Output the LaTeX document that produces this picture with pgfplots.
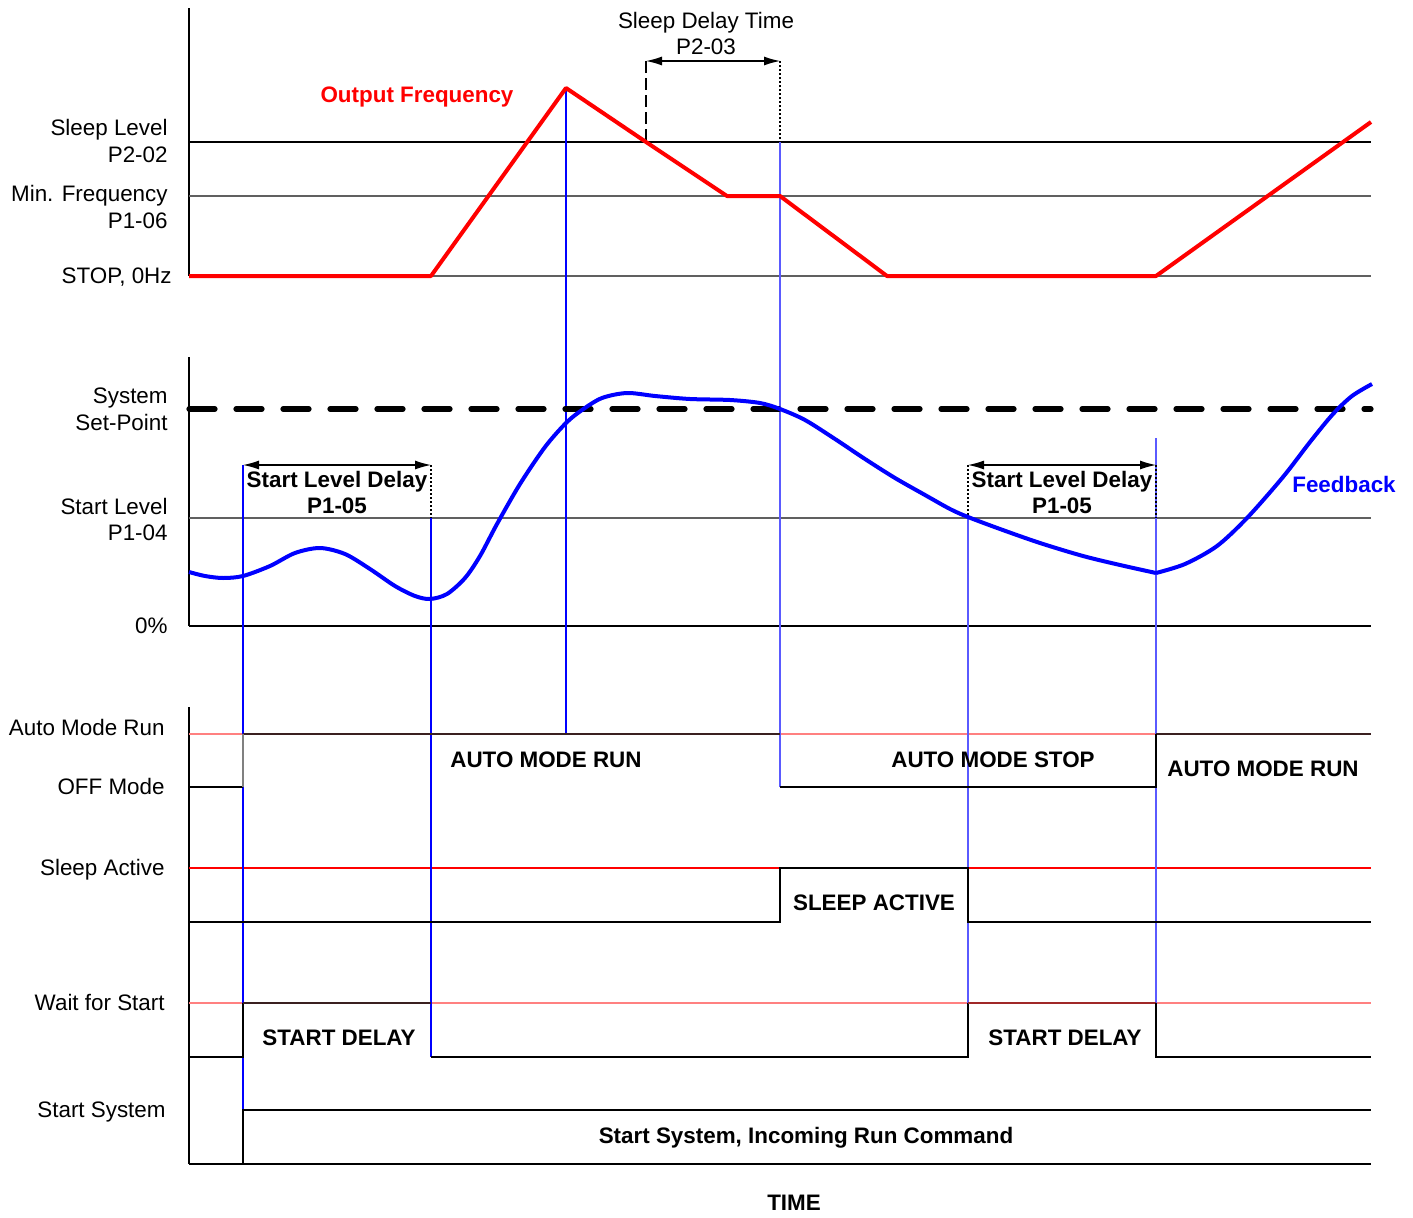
\documentclass[border=0pt]{standalone}
\usepackage{fontspec}
\setmainfont{Liberation Sans}
\usepackage{pgfplots}
\pgfplotsset{compat=1.18}
\usetikzlibrary{arrows.meta}
\definecolor{lred}{HTML}{FF8080}
\definecolor{dbrown}{HTML}{3A2020}
\definecolor{dred}{HTML}{A02828}
\definecolor{lblue}{HTML}{5A5AFF}
\definecolor{gline}{HTML}{606060}
\begin{document}
\begin{tikzpicture}[font=\fontsize{11.2bp}{13bp}\selectfont]
\begin{axis}[scale only axis, width=706.5bp, height=609bp,
  xmin=0, xmax=1413, ymin=0, ymax=1218, y dir=reverse,
  hide axis, clip=false,
  every axis plot/.append style={no markers}]
\path (axis cs:0,0) rectangle (axis cs:1413,1218);
% ---------- axes ----------
\addplot[black, line width=0.7bp] coordinates {(189,8) (189,276)};
\addplot[black, line width=0.7bp] coordinates {(189,357) (189,626)};
\addplot[black, line width=0.7bp] coordinates {(189,707) (189,1164)};
% ---------- top panel reference lines ----------
\addplot[black, line width=0.6bp] coordinates {(189,142) (1371,142)};
\addplot[gline, line width=0.7bp] coordinates {(189,196) (1371,196)};
\addplot[gline, line width=0.7bp] coordinates {(189,276) (1371,276)};
% ---------- middle panel reference lines ----------
\addplot[gline, line width=0.7bp] coordinates {(189,518) (1371,518)};
\addplot[black, line width=0.6bp] coordinates {(189,626) (1371,626)};
% ---------- lane reference lines ----------
\addplot[lred, line width=0.7bp] coordinates {(189,734) (1371,734)};
\addplot[red, line width=0.6bp] coordinates {(189,868) (1371,868)};
\addplot[lred, line width=0.7bp] coordinates {(189,1003) (1371,1003)};
% ---------- blue vertical markers ----------
\addplot[blue, line width=0.6bp] coordinates {(243,465) (243,1110)};
\addplot[blue, line width=0.6bp] coordinates {(431,518) (431,1057)};
\addplot[blue, line width=0.6bp] coordinates {(566,88) (566,734)};
\addplot[lblue, line width=0.6bp] coordinates {(780,142) (780,787)};
\addplot[lblue, line width=0.6bp] coordinates {(968,518) (968,1003)};
\addplot[lblue, line width=0.6bp] coordinates {(1156,438) (1156,1003)};
% ---------- dotted / dashed delay markers ----------
\addplot[black, line width=1.1bp, dash pattern=on 6bp off 2.5bp] coordinates {(646,61) (646,142)};
\addplot[black, line width=0.6bp, dash pattern=on 1bp off 1bp] coordinates {(780,61) (780,142)};
\addplot[black, line width=0.6bp, dash pattern=on 1bp off 1bp] coordinates {(431,465) (431,518)};
\addplot[black, line width=0.6bp, dash pattern=on 1bp off 1bp] coordinates {(968,465) (968,518)};
\addplot[black, line width=0.6bp, dash pattern=on 1bp off 1bp] coordinates {(1156,465) (1156,518)};
% ---------- arrows ----------
\addplot[black, line width=0.6bp, {Latex[length=8bp,width=4.5bp]}-{Latex[length=8bp,width=4.5bp]}] coordinates {(646,61) (780,61)};
\addplot[black, line width=0.6bp, {Latex[length=8bp,width=4.5bp]}-{Latex[length=8bp,width=4.5bp]}] coordinates {(243,465) (431,465)};
\addplot[black, line width=0.6bp, {Latex[length=8bp,width=4.5bp]}-{Latex[length=8bp,width=4.5bp]}] coordinates {(968,465) (1156,465)};
% ---------- set point ----------
\addplot[black, line width=2.6bp, line cap=round, dash pattern=on 13bp off 10.5bp] coordinates {(189,409) (1371,409)};
% ---------- output frequency ----------
\addplot[red, line width=2bp, line join=round] coordinates {
(189,276) (431,276) (566,88) (646,142) (727,196) (780,196) (887,276) (1156,276) (1371,122)};
% ---------- feedback ----------
\addplot[blue, line width=2bp, smooth, tension=0.5] coordinates {
(189,572) (205,576) (223,578) (243,576) (270,566) (295,553) (320,548) (345,554)
(370,569) (395,586) (415,596) (430,599) (447,594) (465,578) (480,556) (497,524)
(520,484) (545,447) (566,423) (582,410) (602,398) (627,393) (655,396) (690,399)
(730,400) (760,403) (780,409) (805,420) (835,439) (865,459) (895,478) (925,495)
(950,509) (968,517) (1000,529) (1040,543) (1083,556) (1120,565) (1156,573)};
\addplot[blue, line width=2bp, smooth, tension=0.5] coordinates {
(1156,573) (1185,564) (1217,546) (1247,518) (1283,477) (1310,442) (1333,414)
(1352,396) (1372,384)};
% ---------- lane signals ----------
\addplot[dbrown, line width=0.8bp] coordinates {(243,734) (780,734)};
\addplot[dbrown, line width=0.8bp] coordinates {(1156,734) (1371,734)};
\addplot[black, line width=0.8bp] coordinates {(189,787) (243,787)};
\addplot[gray, line width=0.7bp] coordinates {(243,787) (243,734)};
\addplot[black, line width=0.8bp] coordinates {(780,787) (1156,787) (1156,734)};
\addplot[black, line width=0.8bp] coordinates {(189,922) (780,922) (780,868) (968,868) (968,922) (1371,922)};
\addplot[black, line width=0.8bp] coordinates {(189,1057) (243,1057) (243,1003)};
\addplot[dbrown, line width=0.8bp] coordinates {(243,1003) (431,1003)};
\addplot[black, line width=0.8bp] coordinates {(431,1057) (968,1057) (968,1003)};
\addplot[dred, line width=0.8bp] coordinates {(968,1003) (1156,1003)};
\addplot[black, line width=0.8bp] coordinates {(1156,1003) (1156,1057) (1371,1057)};
\addplot[black, line width=0.8bp] coordinates {(189,1164) (1371,1164)};
\addplot[black, line width=0.8bp] coordinates {(243,1164) (243,1110) (1371,1110)};
% ---------- left labels ----------
\node[anchor=base east, inner sep=0pt] at (axis cs:168,135) {Sleep Level};
\node[anchor=base east, inner sep=0pt] at (axis cs:168,162) {P2-02};
\node[anchor=base east, inner sep=0pt] at (axis cs:168,201) {Min. Frequency};
\node[anchor=base east, inner sep=0pt] at (axis cs:168,228) {P1-06};
\node[anchor=base east, inner sep=0pt] at (axis cs:172,283) {STOP, 0Hz};
\node[anchor=base east, inner sep=0pt] at (axis cs:168,403) {System};
\node[anchor=base east, inner sep=0pt] at (axis cs:168,430) {Set-Point};
\node[anchor=base east, inner sep=0pt] at (axis cs:168,514) {Start Level};
\node[anchor=base east, inner sep=0pt] at (axis cs:168,540) {P1-04};
\node[anchor=base east, inner sep=0pt] at (axis cs:168,633) {0\%};
\node[anchor=base east, inner sep=0pt] at (axis cs:165,735) {Auto Mode Run};
\node[anchor=base east, inner sep=0pt] at (axis cs:165,794) {OFF Mode};
\node[anchor=base east, inner sep=0pt] at (axis cs:165,875) {Sleep Active};
\node[anchor=base east, inner sep=0pt] at (axis cs:165,1010) {Wait for Start};
\node[anchor=base east, inner sep=0pt] at (axis cs:166,1117) {Start System};
% ---------- annotations ----------
\node[anchor=base, inner sep=0pt] at (axis cs:706,28) {Sleep Delay Time};
\node[anchor=base, inner sep=0pt] at (axis cs:706,54) {P2-03};
\node[anchor=base, inner sep=0pt, text=red, font=\fontsize{11.2bp}{13bp}\selectfont\bfseries] at (axis cs:417,102) {Output Frequency};
\node[anchor=base, inner sep=0pt, font=\fontsize{11.2bp}{13bp}\selectfont\bfseries] at (axis cs:337,487) {Start Level Delay};
\node[anchor=base, inner sep=0pt, font=\fontsize{11.2bp}{13bp}\selectfont\bfseries] at (axis cs:337,513) {P1-05};
\node[anchor=base, inner sep=0pt, font=\fontsize{11.2bp}{13bp}\selectfont\bfseries] at (axis cs:1062,487) {Start Level Delay};
\node[anchor=base, inner sep=0pt, font=\fontsize{11.2bp}{13bp}\selectfont\bfseries] at (axis cs:1062,513) {P1-05};
\node[anchor=base, inner sep=0pt, text=blue, font=\fontsize{11.2bp}{13bp}\selectfont\bfseries] at (axis cs:1344,492) {Feedback};
\node[anchor=base, inner sep=0pt, font=\fontsize{11.2bp}{13bp}\selectfont\bfseries] at (axis cs:546,767) {AUTO MODE RUN};
\node[anchor=base, inner sep=0pt, font=\fontsize{11.2bp}{13bp}\selectfont\bfseries] at (axis cs:993,767) {AUTO MODE STOP};
\node[anchor=base, inner sep=0pt, font=\fontsize{11.2bp}{13bp}\selectfont\bfseries] at (axis cs:1263,776) {AUTO MODE RUN};
\node[anchor=base, inner sep=0pt, font=\fontsize{11.2bp}{13bp}\selectfont\bfseries] at (axis cs:874,910) {SLEEP ACTIVE};
\node[anchor=base, inner sep=0pt, font=\fontsize{11.2bp}{13bp}\selectfont\bfseries] at (axis cs:339,1045) {START DELAY};
\node[anchor=base, inner sep=0pt, font=\fontsize{11.2bp}{13bp}\selectfont\bfseries] at (axis cs:1065,1045) {START DELAY};
\node[anchor=base, inner sep=0pt, font=\fontsize{11.2bp}{13bp}\selectfont\bfseries] at (axis cs:806,1143) {Start System, Incoming Run Command};
\node[anchor=base, inner sep=0pt, font=\fontsize{11.2bp}{13bp}\selectfont\bfseries] at (axis cs:794,1210) {TIME};
\end{axis}
\end{tikzpicture}
\end{document}
